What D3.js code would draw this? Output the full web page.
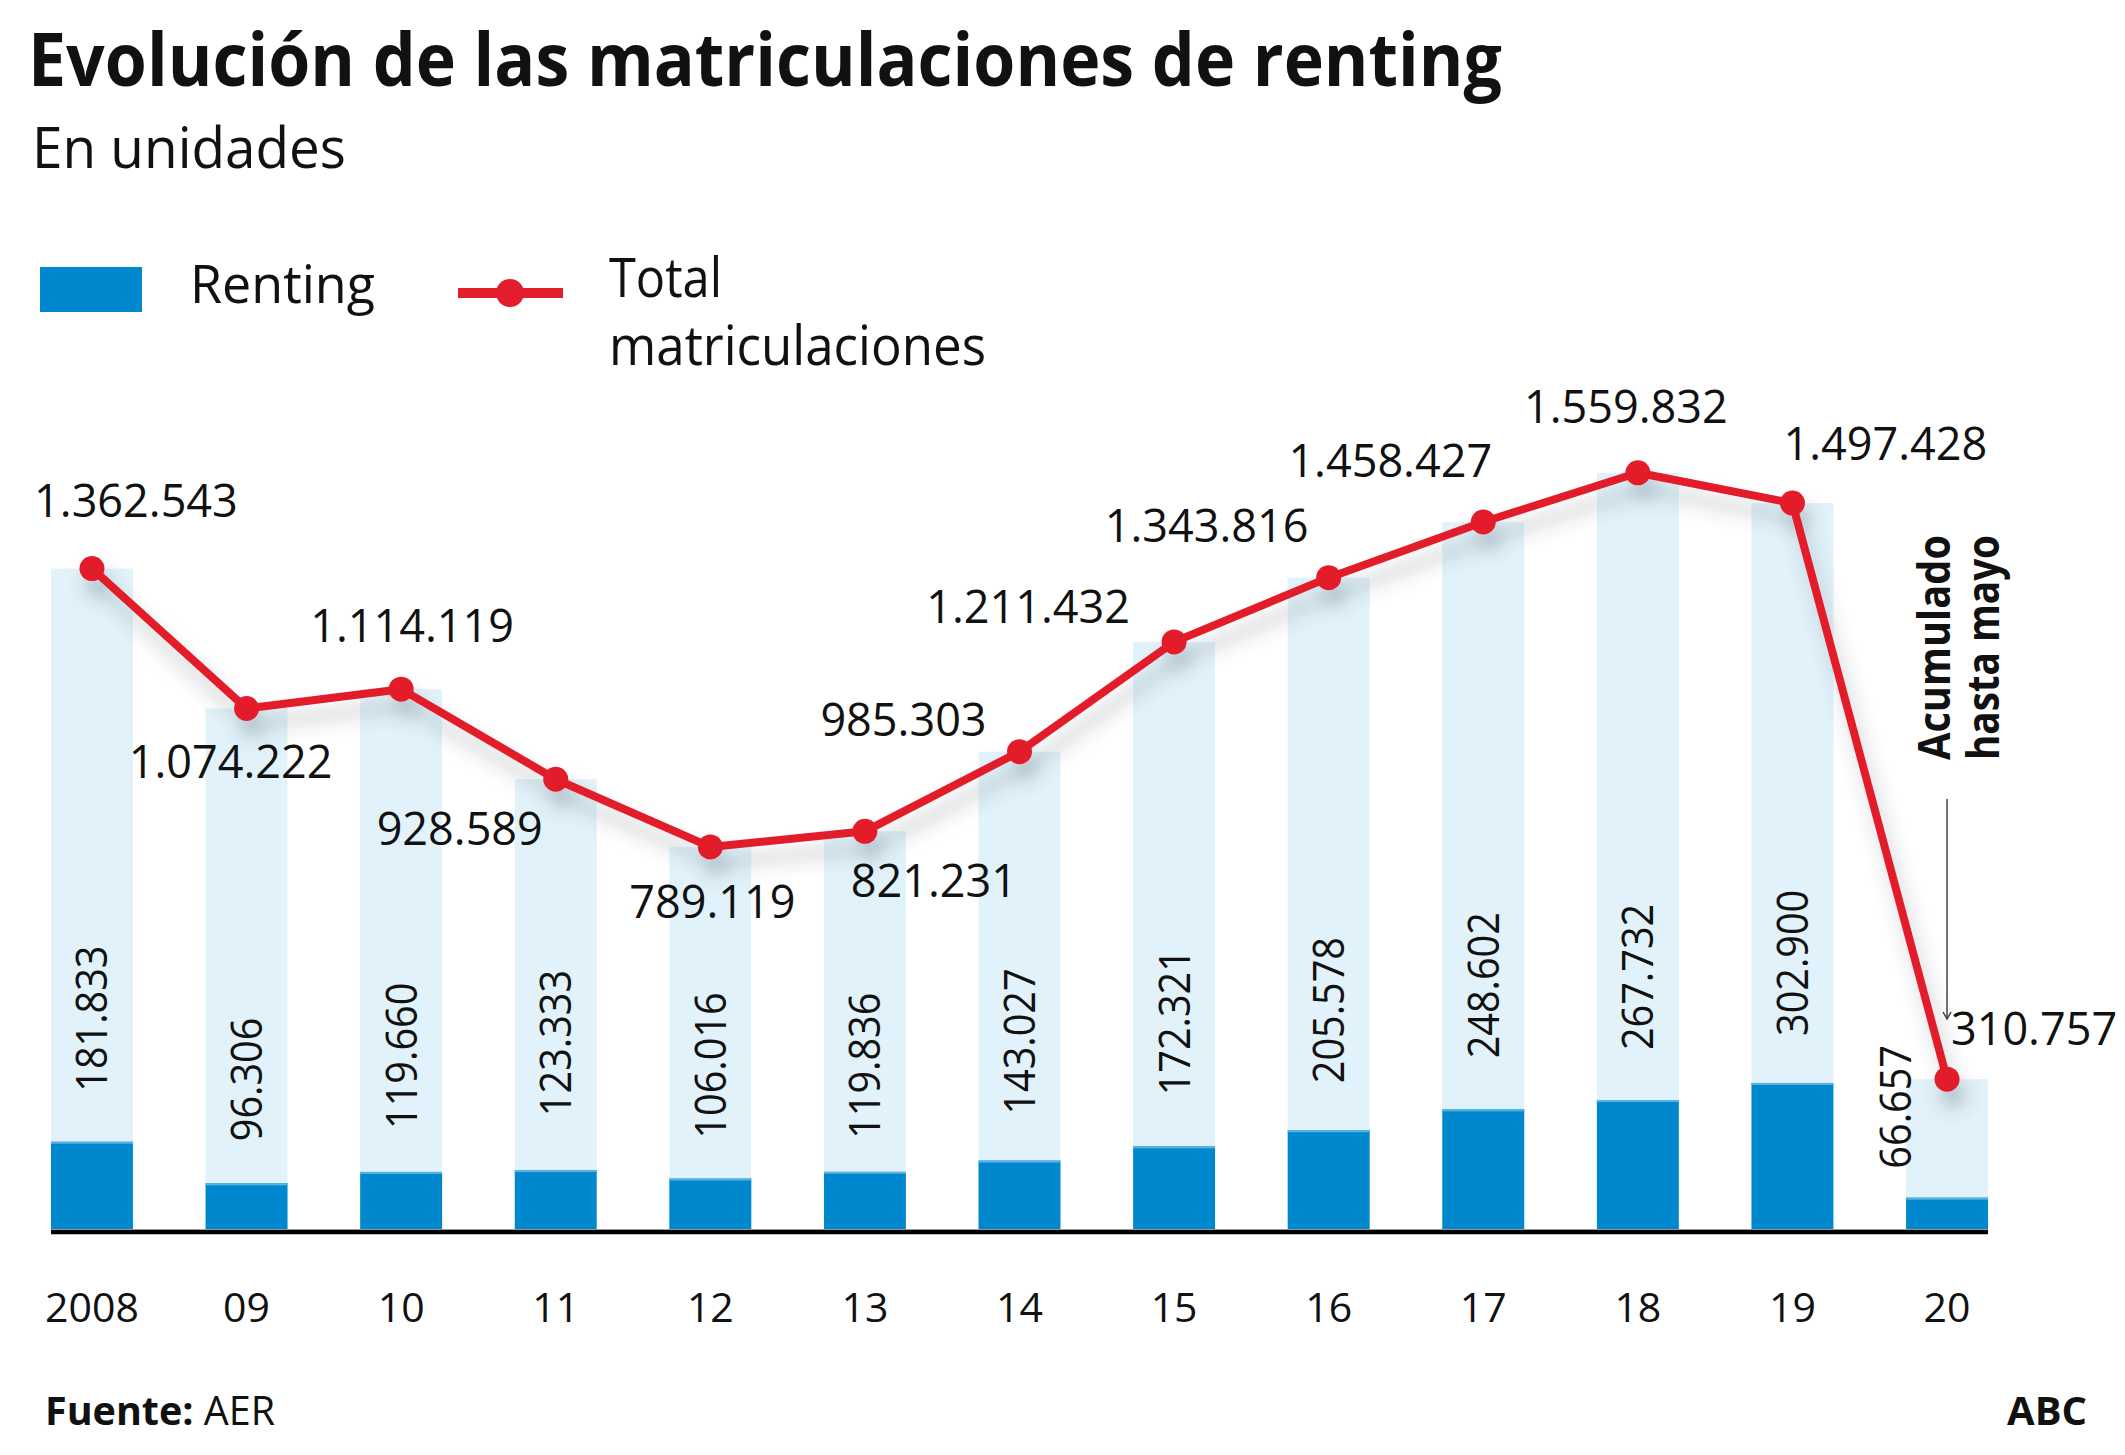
<!DOCTYPE html>
<html>
<head>
<meta charset="utf-8">
<script src="https://cdn.jsdelivr.net/npm/d3@7"></script>
<style>
  html, body { margin: 0; padding: 0; background: #fff; }
  svg { display: block; font-family: 'Open Sans', sans-serif; }
</style>
</head>
<body>
<svg id="chart"></svg>
<script>
// data
const years = ['2008', '09', '10', '11', '12', '13', '14', '15', '16', '17', '18', '19', '20'];
const totalValues = [1362543, 1074222, 1114119, 928589, 789119, 821231, 985303, 1211432, 1343816, 1458427, 1559832, 1497428, 310757];
const rentingValues = [181833, 96306, 119660, 123333, 106016, 119836, 143027, 172321, 205578, 248602, 267732, 302900, 66657];

// hand placed label offsets (layout only)
const totalLabelOffsets = [[44, -52], [-16, 69], [11, -47], [-96, 66], [2, 71], [69, 66], [-116, -16],
  [-146, -19], [-122, -36], [-93, -45], [-12, -50], [93, -43], [87, -34]];
const rentingLabelGap = [50, 42, 43, 54, 40, 33, 46, 51, 47, 51, 50, 47, 29];
const rentingLabelDx = [0, 0, 0, 0, 0, 0, 0, 0, 0, 0, 0, 0, -52];

const width = 2125, height = 1455;
const baseY = 1230;
const red = '#e31d2c', blue = '#0088ce', paleBlue = '#e2f2fa';

const fmt = d3.formatLocale({ decimal: ',', thousands: '.', grouping: [3], currency: ['', ''] }).format(',d');

const svg = d3.select('#chart').attr('width', width).attr('height', height);

const x = d3.scaleBand()
  .domain(years)
  .range([51, 1988])
  .paddingInner(0.47)
  .paddingOuter(0);

const y = d3.scaleLinear()
  .domain([0, 1600000])
  .range([baseY, baseY - 1600000 / 2060]);

const cx = d => x(d) + x.bandwidth() / 2;

const defs = svg.append('defs');
defs.append('filter')
  .attr('id', 'shadow')
  .attr('filterUnits', 'userSpaceOnUse')
  .attr('x', 0).attr('y', 0).attr('width', width).attr('height', height)
  .append('feDropShadow')
  .attr('dx', 6).attr('dy', 16)
  .attr('stdDeviation', 9)
  .attr('flood-color', '#3a4a55')
  .attr('flood-opacity', 0.3);

// title
svg.append('text')
  .attr('x', 28).attr('y', 86)
  .attr('font-size', 74).attr('font-weight', 700).attr('fill', '#111')
  .attr('textLength', 1474).attr('lengthAdjust', 'spacingAndGlyphs')
  .text('Evolución de las matriculaciones de renting');

svg.append('text')
  .attr('x', 32).attr('y', 168)
  .attr('font-size', 56).attr('fill', '#111')
  .attr('textLength', 314).attr('lengthAdjust', 'spacingAndGlyphs')
  .text('En unidades');

// legend
const legend = svg.append('g');
legend.append('rect')
  .attr('x', 40).attr('y', 267).attr('width', 102).attr('height', 45)
  .attr('fill', blue);
legend.append('text')
  .attr('x', 190).attr('y', 303)
  .attr('font-size', 53).attr('fill', '#111')
  .attr('textLength', 185).attr('lengthAdjust', 'spacingAndGlyphs')
  .text('Renting');
legend.append('line')
  .attr('x1', 458).attr('x2', 563).attr('y1', 293).attr('y2', 293)
  .attr('stroke', red).attr('stroke-width', 10);
legend.append('circle')
  .attr('cx', 510).attr('cy', 293).attr('r', 14)
  .attr('fill', red);
legend.append('text')
  .attr('x', 609).attr('y', 297)
  .attr('font-size', 54).attr('fill', '#111')
  .attr('textLength', 113).attr('lengthAdjust', 'spacingAndGlyphs')
  .text('Total');
legend.append('text')
  .attr('x', 609).attr('y', 365)
  .attr('font-size', 54).attr('fill', '#111')
  .attr('textLength', 377).attr('lengthAdjust', 'spacingAndGlyphs')
  .text('matriculaciones');

// pale bars (total)
svg.append('g')
  .selectAll('rect')
  .data(years)
  .join('rect')
    .attr('x', d => x(d))
    .attr('y', (d, i) => y(totalValues[i]))
    .attr('width', x.bandwidth())
    .attr('height', (d, i) => y(0) - y(totalValues[i]))
    .attr('fill', paleBlue);

// renting bars
const rb = svg.append('g');
rb.selectAll('rect.renting')
  .data(years)
  .join('rect')
    .attr('class', 'renting')
    .attr('x', d => x(d))
    .attr('y', (d, i) => y(rentingValues[i]))
    .attr('width', x.bandwidth())
    .attr('height', (d, i) => y(0) - y(rentingValues[i]))
    .attr('fill', blue);
rb.selectAll('rect.edge')
  .data(years)
  .join('rect')
    .attr('class', 'edge')
    .attr('x', d => x(d))
    .attr('y', (d, i) => y(rentingValues[i]))
    .attr('width', x.bandwidth())
    .attr('height', 2)
    .attr('fill', '#5ab3e2');

// axis baseline
svg.append('line')
  .attr('x1', 51).attr('x2', 1988).attr('y1', baseY - 0.5).attr('y2', baseY - 0.5)
  .attr('stroke', '#c8c8c8').attr('stroke-width', 1);
svg.append('line')
  .attr('x1', 51).attr('x2', 1988).attr('y1', baseY + 2).attr('y2', baseY + 2)
  .attr('stroke', '#000').attr('stroke-width', 4.5);

// year labels
svg.append('g')
  .attr('transform', `translate(0,${baseY + 92})`)
  .call(d3.axisBottom(x).tickSize(0).tickPadding(0))
  .call(g => g.select('.domain').remove())
  .call(g => g.selectAll('text')
    .attr('font-family', "'Open Sans', sans-serif")
    .attr('font-size', 41)
    .attr('fill', '#111')
    .attr('dy', 0));

// renting value labels (rotated)
svg.append('g')
  .selectAll('text')
  .data(years)
  .join('text')
    .attr('transform', (d, i) =>
      `translate(${cx(d) + rentingLabelDx[i] + 15.5},${y(rentingValues[i]) - rentingLabelGap[i]}) rotate(-90) scale(0.9,1)`)
    .attr('font-size', 44)
    .attr('fill', '#111')
    .text((d, i) => fmt(rentingValues[i]));

// total line with shadow
const lineG = svg.append('g').attr('filter', 'url(#shadow)');
lineG.append('path')
  .datum(years)
  .attr('fill', 'none')
  .attr('stroke', red)
  .attr('stroke-width', 8)
  .attr('stroke-linejoin', 'round')
  .attr('d', d3.line().x(d => cx(d)).y((d, i) => y(totalValues[i])));
lineG.selectAll('circle')
  .data(years)
  .join('circle')
    .attr('cx', d => cx(d))
    .attr('cy', (d, i) => y(totalValues[i]))
    .attr('r', 12.5)
    .attr('fill', red);

// total value labels
svg.append('g')
  .selectAll('text')
  .data(years)
  .join('text')
    .attr('x', (d, i) => cx(d) + totalLabelOffsets[i][0])
    .attr('y', (d, i) => y(totalValues[i]) + totalLabelOffsets[i][1])
    .attr('text-anchor', 'middle')
    .attr('font-size', 45)
    .attr('fill', '#111')
    .text((d, i) => fmt(totalValues[i]));

// annotation for 2020
const last = years[years.length - 1];
const ann = svg.append('g');
ann.append('text')
  .attr('transform', 'translate(1950,760) rotate(-90)')
  .attr('font-size', 44).attr('font-weight', 700).attr('fill', '#111')
  .attr('textLength', 225).attr('lengthAdjust', 'spacingAndGlyphs')
  .text('Acumulado');
ann.append('text')
  .attr('transform', 'translate(1999,760) rotate(-90)')
  .attr('font-size', 44).attr('font-weight', 700).attr('fill', '#111')
  .attr('textLength', 225).attr('lengthAdjust', 'spacingAndGlyphs')
  .text('hasta mayo');
const ax = cx(last);
ann.append('line')
  .attr('x1', ax).attr('x2', ax).attr('y1', 799).attr('y2', 1019)
  .attr('stroke', '#444').attr('stroke-width', 1.5);
ann.append('path')
  .attr('d', `M${ax - 4},${1012} L${ax},${1019} L${ax + 4},${1012}`)
  .attr('fill', 'none').attr('stroke', '#444').attr('stroke-width', 1.5);

// footer
const foot = svg.append('text')
  .attr('x', 45).attr('y', 1425)
  .attr('font-size', 40).attr('fill', '#111')
  .attr('textLength', 230).attr('lengthAdjust', 'spacingAndGlyphs');
foot.append('tspan').attr('font-weight', 700).text('Fuente:');
foot.append('tspan').text(' AER');

svg.append('text')
  .attr('x', 2087).attr('y', 1425)
  .attr('text-anchor', 'end')
  .attr('font-size', 40).attr('font-weight', 700).attr('fill', '#111')
  .text('ABC');
</script>
</body>
</html>
